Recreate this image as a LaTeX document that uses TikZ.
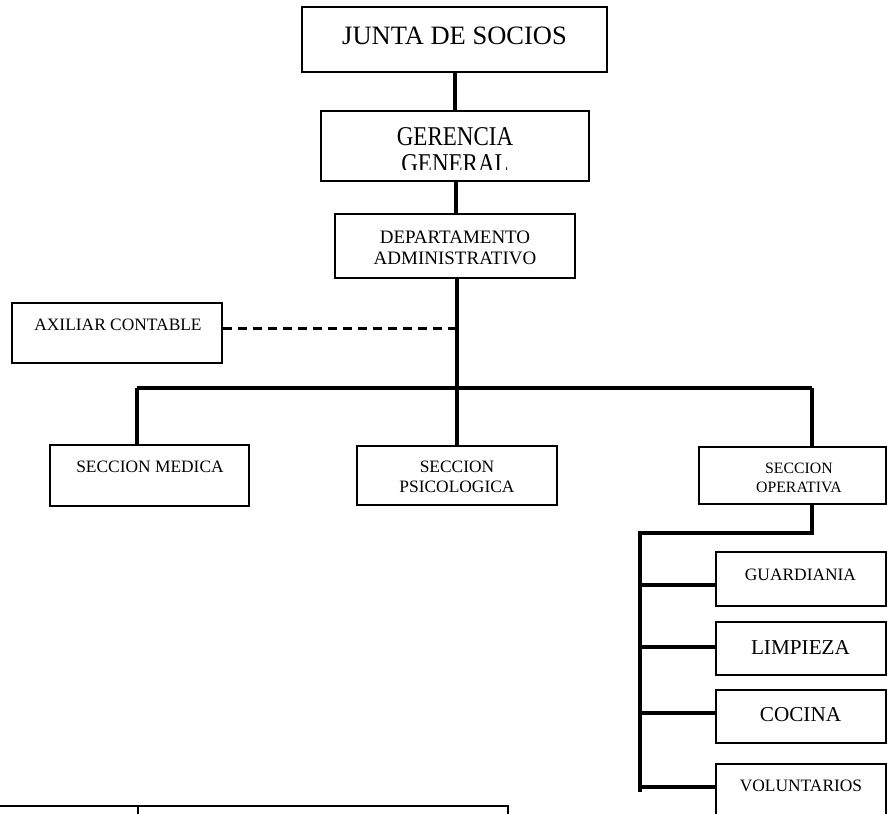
\documentclass[tikz,border=0pt]{standalone}
\usepackage{fontspec}
\setmainfont{Liberation Serif}
\begin{document}
\begin{tikzpicture}[x=1pt,y=-1pt]
\tikzset{
  box/.style={draw=black, line width=1.7pt, fill=white, inner sep=0pt},
  conn/.style={line width=4pt},
  dashconn/.style={line width=3pt, dash pattern=on 9pt off 6pt},
  txt/.style={inner sep=0pt, align=center, text=black},
  fA/.style={font=\fontsize{26.5}{29}\selectfont},
  fB/.style={font=\fontsize{23}{23}\selectfont},
  fC/.style={font=\fontsize{19}{21}\selectfont},
  fD/.style={font=\fontsize{17.4}{20}\selectfont},
  fE/.style={font=\fontsize{15.8}{19}\selectfont},
  fF/.style={font=\fontsize{21.2}{24}\selectfont}
}
\useasboundingbox (0,0) rectangle (887,814);

% boxes
\node[box, minimum width=305pt, minimum height=65pt] (junta) at (454.5,39.5) {};
\node[txt, fA] (juntat) at (454.5,36) {JUNTA DE SOCIOS};

\node[box, minimum width=268pt, minimum height=70pt] (geren) at (455,146) {};
\begin{scope}
  \clip (321,111) rectangle (589,169);
  \begin{scope}[shift={(455,150.5)}, yscale=1.18]
    \node[txt, fB, transform shape] (gerent) at (0,0) {GERENCIA\\GENERAL};
  \end{scope}
\end{scope}

\node[box, minimum width=240pt, minimum height=64pt] (depto) at (455,246) {};
\node[txt, fC] (deptot) at (455,247.5) {DEPARTAMENTO\\ADMINISTRATIVO};

\node[box, minimum width=210pt, minimum height=60pt] (axil) at (117,333) {};
\node[txt, fD] (axilt) at (118,325) {AXILIAR CONTABLE};

\node[box, minimum width=199pt, minimum height=61pt] (medica) at (149.5,475.5) {};
\node[txt, fD] (medicat) at (150,467) {SECCION MEDICA};

\node[box, minimum width=200pt, minimum height=59pt] (psico) at (457,475.5) {};
\node[txt, fD] (psicot) at (457,477) {SECCION\\PSICOLOGICA};

\node[box, minimum width=187pt, minimum height=57pt] (oper) at (792.5,475.5) {};
\node[txt, fE] (opert) at (799,477.5) {SECCION\\OPERATIVA};

\node[box, minimum width=170pt, minimum height=54pt] (guard) at (801,579) {};
\node[txt, fD] (guardt) at (800.5,575) {GUARDIANIA};

\node[box, minimum width=170pt, minimum height=53pt] (limp) at (801,648.5) {};
\node[txt, fF] (limpt) at (800.5,647) {LIMPIEZA};

\node[box, minimum width=170pt, minimum height=53pt] (cocina) at (801,716.5) {};
\node[txt, fF] (cocinat) at (800.5,715) {COCINA};

\node[box, minimum width=170pt, minimum height=64pt] (volun) at (801,796) {};
\node[txt, fD] (volunt) at (801,786) {VOLUNTARIOS};

% connectors
\coordinate (hl) at (137,388);
\coordinate (hr) at (812,388);
\coordinate (hub) at (457,388);
\coordinate (dj) at (457,328);
\coordinate (ob) at (812,533);
\coordinate (vt) at (640,533);
\coordinate (vb) at (640,792);

\draw[conn] (junta.south) -- (junta.south |- geren.north);
\draw[conn] ([xshift=1pt]geren.south) -- ([xshift=1pt]depto.north);
\draw[conn] (hub |- depto.south) -- (hub);
\draw[dashconn] (axil.east |- dj) -- (dj);
\draw[conn] (hl) -- (hr);
\draw[conn] (hl) -- (hl |- medica.north);
\draw[conn] (hub) -- (psico.north);
\draw[conn] (hr) -- (hr |- oper.north);
\draw[conn] (hr |- oper.south) -- (ob) -- (vt) -- (vb);
\draw[conn] (vt |- 0,585) -- (guard.west |- 0,585);
\draw[conn] (vt |- 0,647) -- (limp.west |- 0,647);
\draw[conn] (vt |- 0,713) -- (cocina.west |- 0,713);
\draw[conn] (vt |- 0,787) -- (volun.west |- 0,787);

% bottom table edge
\draw[line width=1.6pt] (0,806) -- (508,806);
\draw[line width=1.6pt] (138,806) -- (138,816);
\draw[line width=1.6pt] (508,805.2) -- (508,816);
\end{tikzpicture}
\end{document}
